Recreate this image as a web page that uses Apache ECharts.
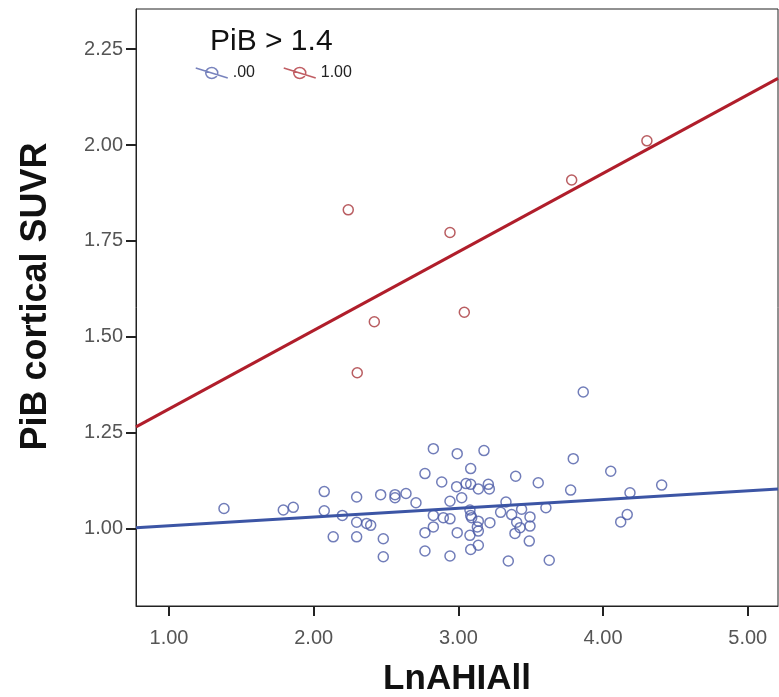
<!DOCTYPE html>
<html>
<head>
<meta charset="utf-8">
<script src="https://cdn.jsdelivr.net/npm/echarts@6/dist/echarts.min.js"></script>
<style>
  html, body { margin: 0; padding: 0; background: #fff; }
  #chart { width: 779px; height: 697px; }
</style>
</head>
<body>
<div id="chart"></div>
<script>
// PiB <= 1.4 group (.00)
var groupLow = [
  [1.380, 1.052], [1.790, 1.048], [1.859, 1.055], [2.073, 1.096], [2.073, 1.046],
  [2.198, 1.034], [2.297, 1.082], [2.463, 1.088], [2.562, 1.088], [2.562, 1.080],
  [2.297, 1.016], [2.366, 1.013], [2.394, 1.008], [2.135, 0.978], [2.297, 0.978],
  [2.481, 0.973], [2.481, 0.926], [2.827, 1.208], [2.992, 1.195], [3.177, 1.203],
  [3.794, 1.182], [2.769, 1.143], [3.085, 1.156], [3.396, 1.136], [3.552, 1.119],
  [2.885, 1.121], [2.988, 1.109], [3.053, 1.117], [3.085, 1.115], [3.138, 1.103],
  [3.207, 1.115], [3.214, 1.103], [3.776, 1.100], [2.638, 1.091], [2.707, 1.067],
  [2.942, 1.071], [3.023, 1.080], [3.329, 1.069], [2.827, 1.034], [2.896, 1.028],
  [2.942, 1.025], [3.080, 1.048], [3.085, 1.034], [3.092, 1.028], [3.292, 1.042],
  [3.368, 1.036], [3.437, 1.050], [3.495, 1.030], [3.605, 1.054], [3.138, 1.019],
  [3.218, 1.015], [3.403, 1.016], [3.426, 1.002], [3.495, 1.006], [2.827, 1.004],
  [3.131, 1.004], [3.138, 0.993], [2.769, 0.989], [2.992, 0.989], [3.080, 0.982],
  [3.391, 0.987], [3.490, 0.967], [2.769, 0.941], [2.942, 0.928], [3.085, 0.945],
  [3.138, 0.956], [3.345, 0.915], [3.628, 0.917], [3.863, 1.356], [4.053, 1.149],
  [4.186, 1.093], [4.405, 1.113], [4.167, 1.036], [4.122, 1.017]
];
// PiB > 1.4 group (1.00)
var groupHigh = [
  [2.239, 1.831], [2.942, 1.772], [2.419, 1.539], [3.041, 1.564],
  [2.301, 1.406], [3.783, 1.909], [4.303, 2.011]
];
// fit lines, read at the left and right edges of the plot
var lowFit = [[0.772, 1.002], [5.209, 1.103]];
var highFit = [[0.772, 1.265], [5.209, 2.174]];

var xTicks = [1, 2, 3, 4, 5];
var yTicks = [1.00, 1.25, 1.50, 1.75, 2.00, 2.25];
var groupNames = ['.00', '1.00'];

var legendIcon = 'path://M0,2L32,12M10,7A6,5.5,0,1,1,22,7A6,5.5,0,1,1,10,7';
var font = 'Liberation Sans, Arial, sans-serif';

var chart = echarts.init(document.getElementById('chart'));
chart.setOption({
  animation: false,
  textStyle: { fontFamily: font },
  title: {
    text: 'PiB > 1.4',
    left: 205,
    top: 22,
    textStyle: { fontSize: 30, fontWeight: 'normal', color: '#111', fontFamily: font }
  },
  legend: {
    left: 190,
    top: 60,
    itemWidth: 32,
    itemHeight: 14,
    itemGap: 28,
    textStyle: { fontSize: 16, color: '#222' },
    data: [
      { name: groupNames[0], icon: legendIcon, itemStyle: { color: 'transparent', borderColor: '#5664ad', borderWidth: 1.5 } },
      { name: groupNames[1], icon: legendIcon, itemStyle: { color: 'transparent', borderColor: '#b0343c', borderWidth: 1.5 } }
    ]
  },
  grid: {
    left: 136,
    top: 9,
    right: 1,
    bottom: 91,
    outerBoundsMode: 'none',
    containLabel: false,
    show: true,
    borderColor: '#222',
    borderWidth: 1
  },
  xAxis: {
    type: 'value',
    min: 0.772,
    max: 5.209,
    name: 'LnAHIAll',
    nameLocation: 'middle',
    nameGap: 56,
    nameTextStyle: { fontSize: 35, fontWeight: 'bold', color: '#111' },
    axisLine: { show: true, lineStyle: { color: '#222', width: 1 } },
    axisTick: { show: true, length: 10, customValues: xTicks, lineStyle: { color: '#222', width: 2 } },
    axisLabel: {
      customValues: xTicks,
      margin: 22,
      fontSize: 20,
      color: '#555',
      formatter: function (v) { return v.toFixed(2); }
    },
    splitLine: { show: false }
  },
  yAxis: {
    type: 'value',
    min: 0.7976,
    max: 2.355,
    name: 'PiB cortical SUVR',
    nameLocation: 'middle',
    nameGap: 82,
    nameTextStyle: { fontSize: 36, fontWeight: 'bold', color: '#111', padding: [0, 0, 0, 22] },
    axisLine: { show: true, lineStyle: { color: '#222', width: 1 } },
    axisTick: { show: true, length: 10, customValues: yTicks, lineStyle: { color: '#222', width: 2 } },
    axisLabel: {
      customValues: yTicks,
      margin: 13,
      fontSize: 20,
      color: '#555',
      formatter: function (v) { return v.toFixed(2); }
    },
    splitLine: { show: false }
  },
  series: [
    {
      name: groupNames[0],
      type: 'scatter',
      symbol: 'circle',
      symbolSize: 10,
      itemStyle: { color: 'transparent', borderColor: '#4e5da8', borderWidth: 1.5 },
      data: groupLow
    },
    {
      name: groupNames[1],
      type: 'scatter',
      symbol: 'circle',
      symbolSize: 10,
      itemStyle: { color: 'transparent', borderColor: '#a8343a', borderWidth: 1.5 },
      data: groupHigh
    },
    {
      name: 'fitLow',
      type: 'line',
      showSymbol: false,
      symbol: 'none',
      lineStyle: { color: '#3c55a5', width: 3 },
      data: lowFit,
      z: 3
    },
    {
      name: 'fitHigh',
      type: 'line',
      showSymbol: false,
      symbol: 'none',
      lineStyle: { color: '#b01e2b', width: 3 },
      data: highFit,
      z: 3
    }
  ]
});
</script>
</body>
</html>
